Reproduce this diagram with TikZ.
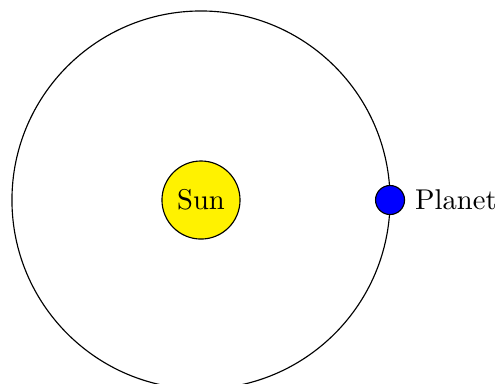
\documentclass[tikz,border=0pt]{standalone}
\usetikzlibrary{positioning}

\begin{document}
\begin{tikzpicture}
  \useasboundingbox (-2.472,-2.251) rectangle (3.665,2.460);
  % Orbit with the sun at its centre
  \draw (0,0) circle (2.325);
  \node[circle, draw, fill=yellow, minimum size=0.96cm, inner sep=0pt] (sun) at (0,0) {Sun};
  % Planet sitting on the orbit, name to its right
  \node[circle, draw, fill=blue, minimum size=0.357cm, inner sep=0pt] (planet) at (0:2.325) {};
  \node[right=0pt of planet] (planetname) {Planet};
\end{tikzpicture}
\end{document}
